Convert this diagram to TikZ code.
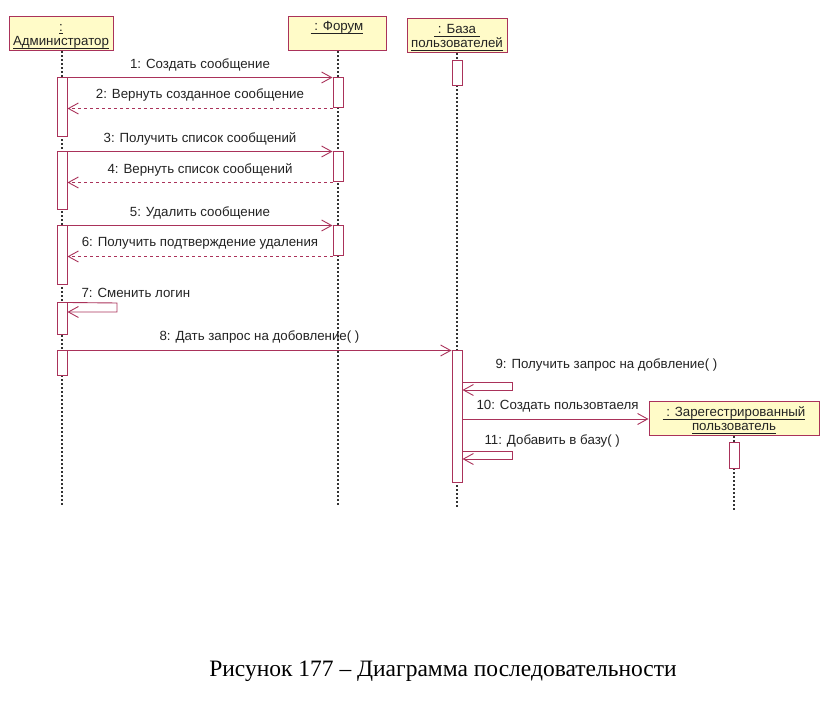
\documentclass[tikz,border=0pt]{standalone}
\usepackage{fontspec}
\setmainfont{Liberation Sans}
\newfontfamily\capfont{Liberation Serif}
\usetikzlibrary{arrows.meta}
\definecolor{lc}{RGB}{170,50,90}
\definecolor{objfill}{RGB}{255,251,200}
\definecolor{tc}{RGB}{35,35,35}
\newcommand\myul[1]{\setbox0\hbox{#1}\rlap{\rule[-2.5pt]{\wd0}{0.7pt}}\box0}
\begin{document}
\begin{tikzpicture}[x=1pt,y=-1pt,
  every node/.style={font=\fontsize{13.3}{14}\selectfont, text=tc},
  obj/.style={draw=lc, fill=objfill, line width=1pt, rectangle, inner sep=0pt},
  otext/.style={inner sep=0pt, anchor=base},
  act/.style={draw=lc, fill=white, line width=1pt, rectangle, inner sep=0pt, minimum width=10pt},
  life/.style={draw=black!80, line width=1.3pt, dash pattern=on 1.6pt off 2.4pt},
  msg/.style={draw=lc, line width=0.9pt, -{Straight Barb[length=10pt,width=11pt]}},
  ret/.style={msg, dashed},
  lbl/.style={midway, yshift=13pt},
]
\useasboundingbox (0,0) rectangle (831,703);
% objects
\node[obj, minimum width=104pt, minimum height=34pt] (adm) at (61,34) {};
\node[otext] (admt1) at (61,31.5) {\myul{:}};
\node[otext] (admt2) at (61,46) {\myul{Администратор}};
\node[obj, minimum width=98pt, minimum height=34pt] (forum) at (337,34) {};
\node[otext] (fort1) at (337,31) {\myul{\ : Форум}};
\node[obj, minimum width=100pt, minimum height=34pt] (baza) at (457,36) {};
\node[otext] (bazt1) at (457,34) {\myul{\ : База\ }};
\node[otext] (bazt2) at (457,48) {\myul{пользователей}};
% lifelines
\coordinate (admend) at (62,507);
\coordinate (forend) at (338,507);
\coordinate (bazend) at (457,507);
\coordinate (regend) at (734,510);
\draw[life] (adm.south -| admend) -- (admend);
\draw[life] (forum.south -| forend) -- (forend);
\draw[life] (baza.south) -- (bazend);
% activations
\node[act, minimum height=59pt] (a1) at (62,107.5) {};
\node[act, minimum height=58pt] (a2) at (62,181) {};
\node[act, minimum height=59pt] (a3) at (62,255.5) {};
\node[act, minimum height=32pt] (a4) at (62,319) {};
\node[act, minimum height=25pt] (a5) at (62,363.5) {};
\node[act, minimum height=30pt] (f1) at (338,93) {};
\node[act, minimum height=30pt] (f2) at (338,167) {};
\node[act, minimum height=30pt] (f3) at (338,241) {};
\node[act, minimum height=25pt] (b0) at (457,73.5) {};
\node[act, minimum height=132pt] (b1) at (457,417) {};
% registered user
\node[obj, minimum width=170pt, minimum height=34pt] (reg) at (734,419) {};
\node[otext] (regt1) at (734,417) {\myul{\ : Зарегестрированный}};
\node[otext] (regt2) at (734,431) {\myul{пользователь}};
\draw[life] (reg.south) -- (regend);
\node[act, minimum height=26pt] (r1) at (734,456) {};
% messages
\draw[msg] (a1.north east) -- node[lbl]{1: Создать сообщение} (f1.north west);
\draw[ret] (f1.south west) -- node[lbl]{2: Вернуть созданное сообщение} (a1.east |- f1.south west);
\draw[msg] (a2.north east) -- node[lbl]{3: Получить список сообщений} (f2.north west);
\draw[ret] (f2.south west) -- node[lbl]{4: Вернуть список сообщений} (a2.east |- f2.south west);
\draw[msg] (a3.north east) -- node[lbl]{5: Удалить сообщение} (f3.north west);
\draw[ret] (f3.south west) -- node[lbl]{6: Получить подтверждение удаления} (a3.east |- f3.south west);
% 7 self
\coordinate (s7a) at (117,303);
\coordinate (s7b) at (117,312);
\draw[msg] (a4.north east) -- (s7a) -- (s7b) -- (a4.east |- s7b);
\node[anchor=west] (l7) at (78,293) {7: Сменить логин};
% 8
\draw[msg] (a5.north east) -- node[lbl]{8: Дать запрос на добовление( )} (b1.north west);
% 9 self
\coordinate (s9a) at (512,382);
\coordinate (s9b) at (512,390);
\draw[msg] (b1.east |- s9a) -- (s9a) -- (s9b) -- (b1.east |- s9b);
\node[anchor=west] (l9) at (492,365) {9: Получить запрос на добвление( )};
% 10
\draw[msg] (b1.east |- reg.west) -- (reg.west);
\node[anchor=west] (l10) at (473,406) {10: Создать пользовтаеля};
% 11 self
\coordinate (s11a) at (512,451);
\coordinate (s11b) at (512,459);
\draw[msg] (b1.east |- s11a) -- (s11a) -- (s11b) -- (b1.east |- s11b);
\node[anchor=west] (l11) at (481,441) {11: Добавить в базу( )};
% caption
\node[font=\capfont\fontsize{23.5}{26}\selectfont, text=black] (cap) at (443,671) {Рисунок 177 – Диаграмма последовательности};
\end{tikzpicture}
\end{document}
